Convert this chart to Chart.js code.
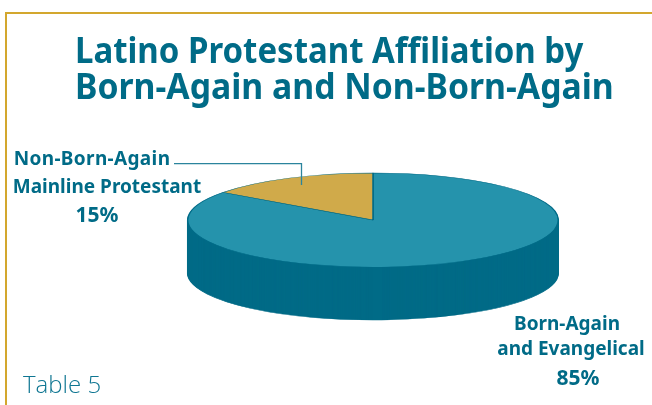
<!DOCTYPE html>
<html>
<head>
<meta charset="utf-8">
<script src="https://cdn.jsdelivr.net/npm/chart.js@4"></script>
<style>
html, body { margin: 0; padding: 0; background: #fff; }
#wrap { position: relative; width: 652px; height: 405px; overflow: hidden; font-family: "Noto Sans", sans-serif; color: #006b87; }
#frame { position: absolute; left: 5px; top: 12px; width: 660px; height: 420px; border-left: 2px solid #d3a72e; border-top: 2px solid #d3a72e; }
canvas { position: absolute; left: 0; top: 0; }
.t { position: absolute; white-space: nowrap; }
.title { font-weight: 700; font-size: 35px; line-height: 37px; left: 75px; transform-origin: 0 0; }
.lab { font-weight: 700; font-size: 19px; line-height: 28px; transform: translateX(-50%); }
.pct { font-size: 21px; }
</style>
</head>
<body>
<div id="wrap">
  <div id="frame"></div>
  <canvas id="pie" width="652" height="405"></canvas>
  <div class="t title" id="t1" style="top:31px;transform:scaleX(0.942)"></div>
  <div class="t title" id="t2" style="top:67px;transform:scaleX(0.964)"></div>
  <div class="t lab" id="a1" style="left:92px;top:144px;letter-spacing:.35px"></div>
  <div class="t lab" id="a2" style="left:107px;top:172px"></div>
  <div class="t lab pct" id="a3" style="left:97px;top:200px"></div>
  <div class="t lab" id="b1" style="left:567px;top:309px"></div>
  <div class="t lab" id="b2" style="left:571px;top:334px"></div>
  <div class="t lab pct" id="b3" style="left:578px;top:363px"></div>
  <div class="t" id="tbl" style="left:23px;top:368px;font-family:'Open Sans',sans-serif;font-weight:300;font-size:24px;line-height:32px;color:#0f7692"></div>
</div>
<script>
var titleLines = ["Latino Protestant Affiliation by", "Born-Again and Non-Born-Again"];
var categories = ["Born-Again and Evangelical", "Non-Born-Again Mainline Protestant"];
var values = [85, 15];
var tableLabel = "Table 5";

var topColors = ["#2593ac", "#d0aa4a"];
var sideColor = "#006b87";

function setText(id, s) { document.getElementById(id).textContent = s; }
setText("t1", titleLines[0]);
setText("t2", titleLines[1]);
setText("a1", "Non-Born-Again");
setText("a2", "Mainline Protestant");
setText("a3", values[1] + "%");
setText("b1", "Born-Again");
setText("b2", "and Evangelical");
setText("b3", values[0] + "%");
setText("tbl", tableLabel);

// pie centre on the page, flattening and wall height of the 3d look
var centerX = 373, centerY = 220, flat = 47 / 185, depth = 53;

function squash(chart, ctx, dy) {
  var a = chart.getDatasetMeta(0).data[0];
  ctx.translate(centerX, centerY + dy);
  ctx.scale(1, flat);
  ctx.translate(-a.x, -a.y);
}

var pie3d = {
  id: "pie3d",
  beforeDatasetsDraw: function (chart) {
    var ctx = chart.ctx;
    var arcs = chart.getDatasetMeta(0).data;
    // wall: the same arcs stacked downward in the dark colour
    for (var d = depth; d > 0; d--) {
      arcs.forEach(function (arc) {
        var saved = arc.options;
        arc.options = Object.assign({}, saved, { backgroundColor: sideColor, borderColor: sideColor });
        ctx.save();
        squash(chart, ctx, d);
        arc.draw(ctx);
        ctx.restore();
        arc.options = saved;
      });
    }
    ctx.save();
    squash(chart, ctx, 0);
  },
  afterDatasetsDraw: function (chart) {
    var ctx = chart.ctx;
    ctx.restore();
    // leader line to the gold slice
    ctx.save();
    ctx.strokeStyle = "#2b849d";
    ctx.lineWidth = 1.3;
    ctx.beginPath();
    ctx.moveTo(174, 163.7);
    ctx.lineTo(301.5, 163.7);
    ctx.lineTo(301.5, 185);
    ctx.stroke();
    ctx.restore();
  }
};

new Chart(document.getElementById("pie"), {
  type: "pie",
  data: {
    labels: categories,
    datasets: [{
      data: values,
      backgroundColor: topColors,
      borderColor: sideColor,
      borderWidth: 1.5
    }]
  },
  options: {
    responsive: false,
    animation: false,
    layout: { padding: { left: 186, right: 94, top: 10, bottom: 23 } },
    plugins: { legend: { display: false }, tooltip: { enabled: false } }
  },
  plugins: [pie3d]
});
</script>
</body>
</html>
